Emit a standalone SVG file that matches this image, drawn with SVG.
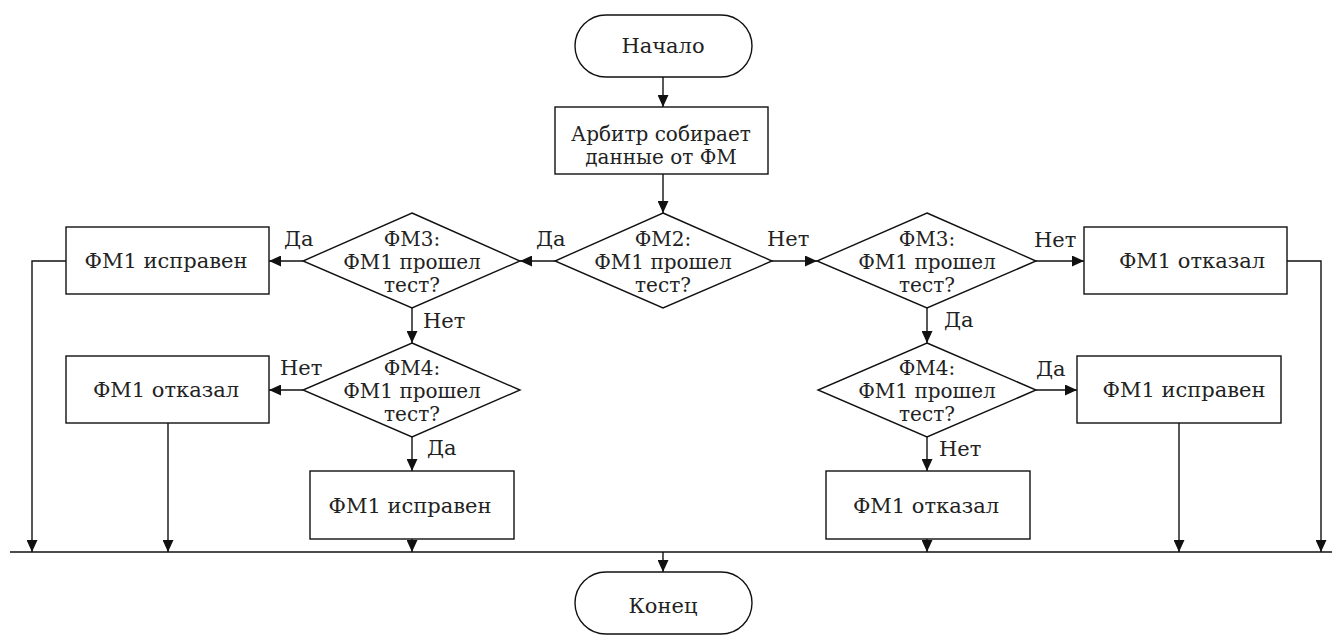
<svg xmlns="http://www.w3.org/2000/svg" width="1332" height="637" viewBox="0 0 1332 637">
<style>
.shape{fill:#fff;stroke:#111;stroke-width:1.4}
.t{font-family:"DejaVu Serif","Liberation Serif",serif;font-size:21px;fill:#222;text-anchor:middle}
.d{font-family:"DejaVu Serif","Liberation Serif",serif;font-size:20px;fill:#222;text-anchor:middle}
.l{font-family:"DejaVu Serif","Liberation Serif",serif;font-size:21px;fill:#222;text-anchor:start}
.c{fill:none;stroke:#111;stroke-width:1.4}
</style>
<defs>
<marker id="ah" markerUnits="userSpaceOnUse" markerWidth="12" markerHeight="11" refX="12" refY="5.5" orient="auto">
<path d="M0,0 L12,5.5 L0,11 z" fill="#111"/>
</marker>
</defs>
<g id="connectors">
<path class="c" d="M663,77 V107" marker-end="url(#ah)"/>
<path class="c" d="M663,174 V213" marker-end="url(#ah)"/>
<path class="c" d="M555,261 H520" marker-end="url(#ah)"/>
<path class="c" d="M303,261 H269" marker-end="url(#ah)"/>
<path class="c" d="M412,308 V343" marker-end="url(#ah)"/>
<path class="c" d="M303,390 H269" marker-end="url(#ah)"/>
<path class="c" d="M412,437 V471" marker-end="url(#ah)"/>
<path class="c" d="M772,261 H817" marker-end="url(#ah)"/>
<path class="c" d="M1036,261 H1084" marker-end="url(#ah)"/>
<path class="c" d="M927,308 V343" marker-end="url(#ah)"/>
<path class="c" d="M1036,390 H1077" marker-end="url(#ah)"/>
<path class="c" d="M927,437 V471" marker-end="url(#ah)"/>
<path class="c" d="M66,261 H32 V552" marker-end="url(#ah)"/>
<path class="c" d="M168,423 V552" marker-end="url(#ah)"/>
<path class="c" d="M412,539 V552" marker-end="url(#ah)"/>
<path class="c" d="M1287,261 H1321 V552" marker-end="url(#ah)"/>
<path class="c" d="M1179,423 V552" marker-end="url(#ah)"/>
<path class="c" d="M927,539 V552" marker-end="url(#ah)"/>
<path class="c" d="M10,552 H1332"/>
<path class="c" d="M663,552 V572" marker-end="url(#ah)"/>
<text class="l" x="536" y="246">Да</text>
<text class="l" x="284" y="246">Да</text>
<text class="l" x="423" y="328">Нет</text>
<text class="l" x="280" y="375">Нет</text>
<text class="l" x="427" y="455">Да</text>
<text class="l" x="767" y="246">Нет</text>
<text class="l" x="1034" y="247">Нет</text>
<text class="l" x="944" y="327">Да</text>
<text class="l" x="1036" y="376">Да</text>
<text class="l" x="939" y="456">Нет</text>
</g>
<g id="start">
<rect class="shape" x="575" y="15" width="177" height="62" rx="31" ry="31"/>
<text class="t" x="663" y="53">Начало</text>
</g>
<g id="collect">
<rect class="shape" x="555" y="107" width="213" height="67"/>
<text class="d" x="661" y="141">Арбитр собирает</text>
<text class="d" x="661" y="164">данные от ФМ</text>
</g>
<g id="fm2">
<polygon class="shape" points="663,213 772,261 663,308 555,261"/>
<text class="d" x="663" y="246">ФМ2:</text>
<text class="d" x="663" y="269">ФМ1 прошел</text>
<text class="d" x="663" y="292">тест?</text>
</g>
<g id="fm3-left">
<polygon class="shape" points="412,213 520,261 412,308 303,261"/>
<text class="d" x="412" y="246">ФМ3:</text>
<text class="d" x="412" y="269">ФМ1 прошел</text>
<text class="d" x="412" y="292">тест?</text>
</g>
<g id="ok-left-top">
<rect class="shape" x="66" y="227" width="203" height="67"/>
<text class="t" x="166" y="268">ФМ1 исправен</text>
</g>
<g id="fm4-left">
<polygon class="shape" points="412,343 520,390 412,437 303,390"/>
<text class="d" x="412" y="375">ФМ4:</text>
<text class="d" x="412" y="398">ФМ1 прошел</text>
<text class="d" x="412" y="421">тест?</text>
</g>
<g id="fail-left">
<rect class="shape" x="66" y="356" width="203" height="67"/>
<text class="t" x="166" y="397">ФМ1 отказал</text>
</g>
<g id="ok-left-bottom">
<rect class="shape" x="310" y="471" width="204" height="68"/>
<text class="t" x="410" y="513">ФМ1 исправен</text>
</g>
<g id="fm3-right">
<polygon class="shape" points="927,213 1036,261 927,308 817,261"/>
<text class="d" x="927" y="246">ФМ3:</text>
<text class="d" x="927" y="269">ФМ1 прошел</text>
<text class="d" x="927" y="292">тест?</text>
</g>
<g id="fail-right-top">
<rect class="shape" x="1084" y="227" width="203" height="67"/>
<text class="t" x="1192" y="268">ФМ1 отказал</text>
</g>
<g id="fm4-right">
<polygon class="shape" points="927,343 1036,390 927,437 818,390"/>
<text class="d" x="927" y="375">ФМ4:</text>
<text class="d" x="927" y="398">ФМ1 прошел</text>
<text class="d" x="927" y="421">тест?</text>
</g>
<g id="ok-right">
<rect class="shape" x="1077" y="356" width="204" height="67"/>
<text class="t" x="1184" y="397">ФМ1 исправен</text>
</g>
<g id="fail-right-bottom">
<rect class="shape" x="826" y="471" width="204" height="68"/>
<text class="t" x="926" y="513">ФМ1 отказал</text>
</g>
<g id="end">
<rect class="shape" x="575" y="572" width="177" height="62" rx="31" ry="31"/>
<text class="t" x="663" y="613">Конец</text>
</g>
</svg>
